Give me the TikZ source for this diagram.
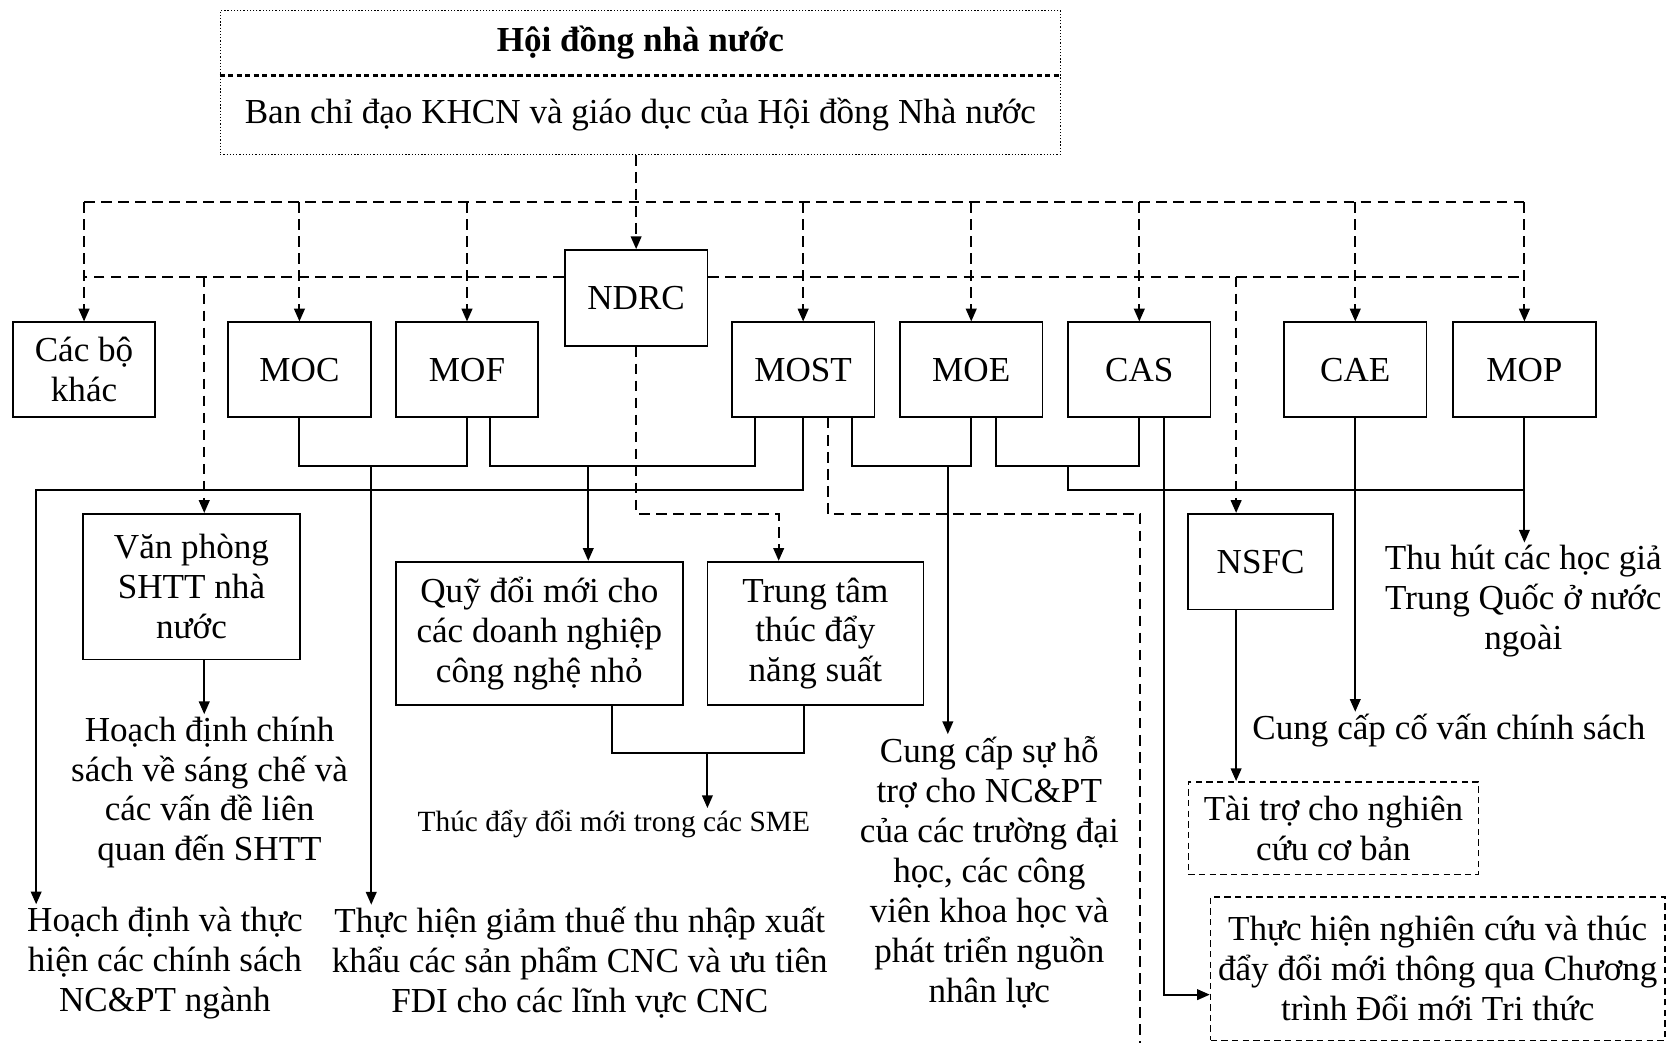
\documentclass[tikz,border=0pt]{standalone}
\usepackage{fontspec}
\setmainfont{Liberation Serif}
\usetikzlibrary{arrows.meta}
\newcommand\myfs{\fontsize{16.5}{18.75}\selectfont}
\newcommand\mysmall{\fontsize{13.8}{16}\selectfont}
\begin{document}
\begin{tikzpicture}[x=0.5pt,y=-0.5pt,
  box/.style={draw, line width=0.8pt, minimum width=67pt, minimum height=44.5pt, inner sep=0pt, align=center, font=\myfs},
  dbox/.style={draw, line width=0.7pt, dash pattern=on 3pt off 2pt, inner sep=0pt, align=center, font=\myfs},
  txt/.style={align=center, inner sep=1pt, font=\myfs},
  dl/.style={line width=0.9pt, dash pattern=on 5pt off 3pt},
  sl/.style={line width=0.9pt},
  arr/.style={-{Triangle[length=6pt,width=5pt]}}]
\useasboundingbox (0,0) rectangle (1568,980);
\fill[white] (0,0) rectangle (1568,980);
% helper rows
\coordinate (hS) at (0,71);
\coordinate (hA) at (0,190);
\coordinate (hB) at (0,260);
\coordinate (hC) at (0,438);
\coordinate (hD) at (0,461);
\coordinate (hE) at (0,483);
\coordinate (hF) at (0,935);
\coordinate (hG) at (0,708);
% top box
\node[draw, line width=0.6pt, dash pattern=on 0.6pt off 0.9pt, minimum width=395pt, minimum height=67.5pt, inner sep=0pt] (top) at (602,77.5) {};
\node[txt, font=\myfs\bfseries] (ttl) at (602,40) {Hội đồng nhà nước};
\node[txt] (sub) at (602,108) {Ban chỉ đạo KHCN và giáo dục của Hội đồng Nhà nước};
\draw[line width=1.7pt, dash pattern=on 2.4pt off 1.6pt] (top.west|-hS) -- (top.east|-hS);
% boxes row
\node[box] (cac) at (79,347.5) {Các bộ\\khác};
\node[box] (moc) at (281.5,347.5) {MOC};
\node[box] (mof) at (439,347.5) {MOF};
\node[box, minimum height=45pt] (ndrc) at (598,280) {NDRC};
\node[box] (most) at (755,347.5) {MOST};
\node[box] (moe) at (913,347.5) {MOE};
\node[box] (cas) at (1071,347.5) {CAS};
\node[box] (cae) at (1274,347.5) {CAE};
\node[box] (mop) at (1433,347.5) {MOP};
% second level
\node[box, minimum width=102pt, minimum height=68.5pt] (vp) at (180,551.5) {Văn phòng\\SHTT nhà\\nước};
\node[box, minimum width=135pt, minimum height=67.5pt] (quy) at (507,595.5) {Quỹ đổi mới cho\\các doanh nghiệp\\công nghệ nhỏ};
\node[box, minimum width=101.5pt, minimum height=67.5pt] (tt) at (766.5,595.5) {Trung tâm\\thúc đẩy\\năng suất};
\node[box, minimum width=68pt, minimum height=45pt] (nsfc) at (1185,528) {NSFC};
\node[dbox, minimum width=136.5pt, minimum height=43.5pt] (tai) at (1253.5,778.5) {Tài trợ cho nghiên\\cứu cơ bản};
\node[dbox, minimum width=213.5pt, minimum height=67.5pt] (th) at (1351.5,910.5) {Thực hiện nghiên cứu và thúc\\đẩy đổi mới thông qua Chương\\trình Đổi mới Tri thức};
% texts
\node[txt] (hcs) at (197,745) {Hoạch định chính\\sách về sáng chế và\\các vấn đề liên\\quan đến SHTT};
\node[txt] (hdt) at (155,905) {Hoạch định và thực\\hiện các chính sách\\NC\&PT ngành};
\node[txt] (tax) at (545,905) {Thực hiện giảm thuế thu nhập xuất\\khẩu các sản phẩm CNC và ưu tiên\\FDI cho các lĩnh vực CNC};
\node[txt, font=\mysmall] (sme) at (577,775) {Thúc đẩy đổi mới trong các SME};
\node[txt] (cch) at (930,820) {Cung cấp sự hỗ\\trợ cho NC\&PT\\của các trường đại\\học, các công\\viên khoa học và\\phát triển nguồn\\nhân lực};
\node[txt] (thu) at (1432,565) {Thu hút các học giả\\Trung Quốc ở nước\\ngoài};
\node[txt] (cv) at (1362,687) {Cung cấp cố vấn chính sách};
% dashed connectors
\draw[dl,arr] (ndrc.north|-top.south) -- (ndrc.north);
\draw[dl] (cac.north|-hA) -- (mop.north|-hA);
\foreach \n in {cac,moc,mof,most,moe,cas,cae,mop} \draw[dl,arr] (\n.north|-hA) -- (\n.north);
\draw[dl] (ndrc.west|-hB) -- (cac.north|-hB);
\draw[dl] (ndrc.east|-hB) -- (mop.north|-hB);
\coordinate (dV) at (192,260);
\draw[dl,arr] (dV) -- (dV|-vp.north);
\coordinate (dN) at (1162,260);
\draw[dl,arr] (dN) -- (dN|-nsfc.north);
\coordinate (dT) at (732,483);
\draw[dl,arr] (ndrc.south) -- (ndrc.south|-hE) -- (dT) -- (dT|-tt.north);
\coordinate (dM) at (778,0);
\coordinate (dK) at (1072,483);
\coordinate (dKb) at (1072,990);
\draw[dl] (dM|-most.south) -- (dM|-hE) -- (dK) -- (dKb);
% solid connectors
\coordinate (a1) at (349,438);
\draw[sl] (moc.south) -- (moc.south|-hC) -- (mof.south|-hC) -- (mof.south);
\draw[sl,arr] (a1) -- (a1|-tax.north);
\coordinate (b1) at (461,0);
\coordinate (b2) at (710,0);
\coordinate (b3) at (553,438);
\draw[sl] (b1|-mof.south) -- (b1|-hC) -- (b2|-hC) -- (b2|-most.south);
\draw[sl,arr] (b3) -- (b3|-quy.north);
\coordinate (c1) at (34,461);
\draw[sl,arr] (most.south) -- (most.south|-hD) -- (c1) -- (c1|-hdt.north);
\coordinate (e1) at (801,0);
\coordinate (e2) at (891,438);
\draw[sl] (e1|-most.south) -- (e1|-hC) -- (moe.south|-hC) -- (moe.south);
\draw[sl,arr] (e2) -- (e2|-cch.north);
\coordinate (f1) at (936,0);
\coordinate (f2) at (1004,438);
\draw[sl] (f1|-moe.south) -- (f1|-hC) -- (cas.south|-hC) -- (cas.south);
\draw[sl] (f2) -- (f2|-hD) -- (mop.south|-hD);
\draw[sl,arr] (mop.south) -- (mop.south|-thu.north);
\draw[sl,arr] (cae.south) -- (cae.south|-cv.north);
\coordinate (g1) at (1094,0);
\draw[sl,arr] (g1|-cas.south) -- (g1|-hF) -- (th.west|-hF);
\draw[sl,arr] (dV|-vp.south) -- (dV|-hcs.north);
\coordinate (k1) at (575,0);
\coordinate (k2) at (756,0);
\coordinate (k3) at (665,708);
\draw[sl] (k1|-quy.south) -- (k1|-hG) -- (k2|-hG) -- (k2|-tt.south);
\draw[sl,arr] (k3) -- (k3|-sme.north);
\draw[sl,arr] (dN|-nsfc.south) -- (dN|-tai.north);
\end{tikzpicture}
\end{document}
